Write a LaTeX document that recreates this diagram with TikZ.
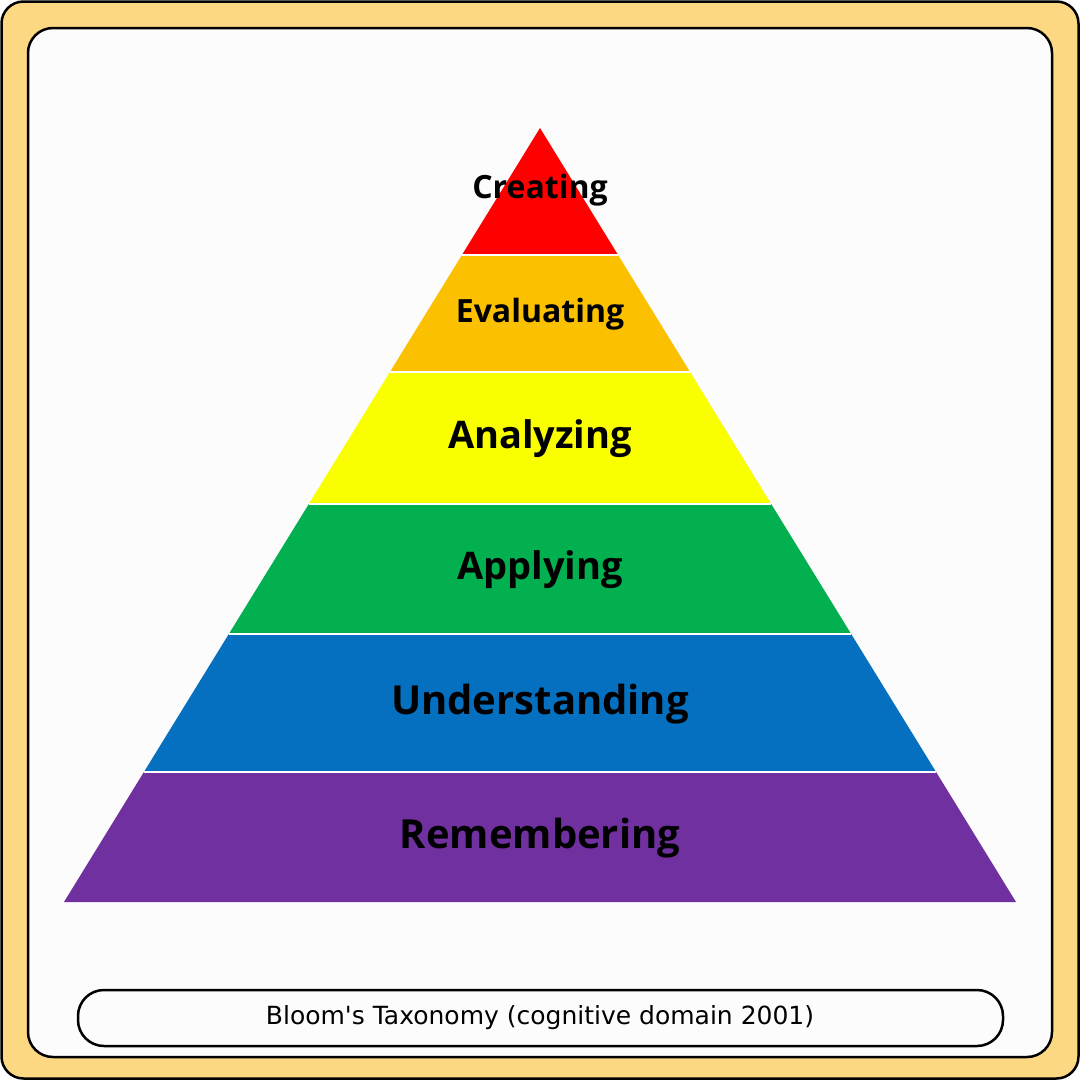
\documentclass[tikz,border=0pt]{standalone}
\usepackage{fontspec}
\setmainfont{Open Sans}
\newfontfamily\capfont{DejaVu Sans}
\definecolor{bgor}{HTML}{FDD882}
\definecolor{inner}{HTML}{FCFCFC}
\definecolor{c1}{HTML}{FF0000}
\definecolor{c2}{HTML}{FBC100}
\definecolor{c3}{HTML}{FAFF00}
\definecolor{c4}{HTML}{03B050}
\definecolor{c5}{HTML}{0570C0}
\definecolor{c6}{HTML}{7030A0}
\begin{document}
\begin{tikzpicture}[x=1pt,y=-1pt,
  lbl/.style={text=black}]
\useasboundingbox (0,0) rectangle (1080,1080);
\draw[fill=bgor,line width=2.5pt,rounded corners=22pt] (1.5,1.5) rectangle (1078.5,1078.5);
\draw[fill=inner,line width=2.5pt,rounded corners=25pt] (28,28) rectangle (1052,1057);
\foreach \ya/\wa/\yb/\wb/\c in
 {128/0/255/78.1/c1,255/78.1/372/150.1/c2,372/150.1/504/231.2/c3,504/231.2/634/311.2/c4,634/311.2/772/396.1/c5,772/396.1/902/476/c6}
 \fill[\c] (540-\wa,\ya) -- (540+\wa,\ya) -- (540+\wb,\yb) -- (540-\wb,\yb) -- cycle;
\foreach \y/\w in {255/78.1,372/150.1,504/231.2,634/311.2,772/396.1}
 \draw[white,line width=1.5pt] (540-\w,\y) -- (540+\w,\y);
\node[lbl,font=\bfseries\fontsize{32}{36}\selectfont] (t1) at (540,190) {Creating};
\node[lbl,font=\bfseries\fontsize{32}{36}\selectfont] (t2) at (540,314) {Evaluating};
\node[lbl,font=\bfseries\fontsize{38}{44}\selectfont] (t3) at (540,439) {Analyzing};
\node[lbl,font=\bfseries\fontsize{38}{44}\selectfont] (t4) at (540,570) {Applying};
\node[lbl,font=\bfseries\fontsize{40}{46}\selectfont] (t5) at (540,704) {Understanding};
\node[lbl,font=\bfseries\fontsize{40}{46}\selectfont] (t6) at (540,838) {Remembering};
\draw[fill=inner,line width=2.5pt,rounded corners=26pt] (78,990) rectangle (1003,1046);
\node[font=\capfont\fontsize{25}{30}\selectfont] (cap) at (540,1018) {Bloom's Taxonomy (cognitive domain 2001)};
\end{tikzpicture}
\end{document}
